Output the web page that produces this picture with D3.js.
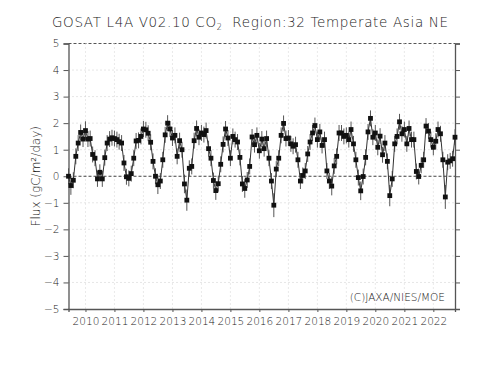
<!DOCTYPE html>
<html>
<head>
<meta charset="utf-8">
<script src="https://cdn.jsdelivr.net/npm/d3@7"></script>
<style>
  body { margin: 0; background: #fff; }
  text { font-family: "DejaVu Sans", sans-serif; fill: #222; font-weight: 200; }
</style>
</head>
<body>
<div id="chart"></div>
<script>
// monthly flux, starting June 2009
let startMonth = "2009-06"
let flux = [
    0.0, -0.35, -0.15, 0.75, 1.25, 1.65, 1.4,
    1.72, 1.4, 1.42, 0.82, 0.68, -0.1, 0.15, -0.1, 0.7, 1.25, 1.4, 1.45,
    1.42, 1.38, 1.3, 1.25, 0.5, -0.02, -0.08, 0.1, 0.68, 1.33, 1.35, 1.5,
    1.78, 1.75, 1.62, 1.28, 0.56, 0.0, -0.32, -0.18, 0.62, 1.56, 2.0, 1.78,
    1.44, 1.54, 0.75, 1.34, 1.0, -0.29, -0.9, 0.3, 0.37, 1.34, 1.8, 1.47,
    1.63, 1.57, 1.72, 1.04, 0.68, -0.16, -0.54, -0.28, 0.45, 1.2, 1.78, 1.44,
    0.68, 1.5, 1.38, 1.29, 0.71, -0.29, -0.46, -0.14, 0.37, 1.48, 1.19, 1.54,
    0.96, 1.4, 1.04, 1.42, 0.68, -0.18, -1.09, 0.27, 0.68, 1.54, 1.99, 1.42,
    1.44, 1.22, 1.13, 1.19, 0.62, -0.18, 0.03, 0.2, 0.84, 1.29, 1.63, 1.91,
    1.38, 1.67, 1.16, 1.38, 0.2, -0.18, -0.37, 0.39, 0.75, 1.63, 1.63, 1.5,
    1.54, 1.38, 1.76, 1.22, 0.62, -0.05, -0.55, -0.01, 0.71, 1.67, 2.18, 1.47,
    1.63, 1.09, 1.51, 0.81, 1.25, 0.56, -0.73, -0.1, 1.22, 1.5, 2.05, 1.6,
    1.76, 1.22, 1.8, 1.38, 1.38, 0.18, -0.01, 0.41, 0.62, 1.89, 1.7, 1.38,
    1.09, 1.32, 1.76, 1.6, 0.62, -0.78, 0.53, 0.58, 0.66, 1.47
]
// half length of the error bars
let fluxErr = [
    0.3, 0.35, 0.3, 0.3, 0.3, 0.3, 0.3,
    0.35, 0.3, 0.3, 0.3, 0.3, 0.3, 0.3, 0.3, 0.3, 0.3, 0.3, 0.3,
    0.3, 0.3, 0.3, 0.3, 0.3, 0.3, 0.3, 0.3, 0.3, 0.3, 0.3, 0.3,
    0.3, 0.3, 0.3, 0.3, 0.3, 0.3, 0.35, 0.3, 0.3, 0.3, 0.3, 0.3,
    0.3, 0.3, 0.3, 0.3, 0.3, 0.35, 0.4, 0.3, 0.3, 0.3, 0.3, 0.3,
    0.3, 0.3, 0.3, 0.3, 0.3, 0.3, 0.35, 0.3, 0.3, 0.3, 0.3, 0.3,
    0.3, 0.3, 0.3, 0.3, 0.3, 0.3, 0.35, 0.3, 0.3, 0.3, 0.3, 0.3,
    0.3, 0.3, 0.3, 0.3, 0.3, 0.3, 0.45, 0.3, 0.3, 0.3, 0.3, 0.3,
    0.3, 0.3, 0.3, 0.3, 0.3, 0.3, 0.3, 0.3, 0.3, 0.3, 0.3, 0.3,
    0.3, 0.3, 0.3, 0.3, 0.3, 0.3, 0.35, 0.3, 0.3, 0.3, 0.3, 0.3,
    0.3, 0.3, 0.3, 0.3, 0.3, 0.3, 0.35, 0.3, 0.3, 0.3, 0.3, 0.3,
    0.3, 0.3, 0.3, 0.3, 0.3, 0.3, 0.4, 0.3, 0.3, 0.3, 0.3, 0.3,
    0.3, 0.3, 0.3, 0.3, 0.3, 0.3, 0.3, 0.3, 0.3, 0.3, 0.3, 0.3,
    0.3, 0.3, 0.3, 0.3, 0.3, 0.45, 0.3, 0.3, 0.3, 0.3
]
let years = [2010, 2011, 2012, 2013, 2014, 2015, 2016, 2017, 2018, 2019, 2020, 2021, 2022]
let yTicks = [-5, -4, -3, -2, -1, 0, 1, 2, 3, 4, 5]

let W = 500, H = 375
let margin = {top: 43.5, right: 45, bottom: 66, left: 68.5}

let parseMonth = d3.timeParse("%Y-%m")
let start = parseMonth(startMonth)
let data = flux.map((v, i) => ({date: d3.timeMonth.offset(start, i), v: v, e: fluxErr[i]}))

let svg = d3.select("#chart").append("svg")
    .attr("width", W).attr("height", H)

let x = d3.scaleTime()
    .domain(d3.extent(data, d => d.date))
    .range([margin.left, W - margin.right])
let y = d3.scaleLinear()
    .domain([-5, 5])
    .range([H - margin.bottom, margin.top])

// grid
let grid = svg.append("g")
grid.selectAll(".hg").data(yTicks.filter(t => t != 0 && t != -5))
    .enter().append("line")
    .attr("x1", margin.left).attr("x2", W - margin.right)
    .attr("y1", d => y(d)).attr("y2", d => y(d))
    .attr("stroke", d => d == 5 ? "#555" : "#ccc")
    .attr("stroke-width", 1)
    .attr("stroke-dasharray", d => d == 5 ? "3,2" : "1,3")
grid.selectAll(".vg").data(years)
    .enter().append("line")
    .attr("x1", d => x(new Date(d, 0, 1))).attr("x2", d => x(new Date(d, 0, 1)))
    .attr("y1", y(5)).attr("y2", y(-5))
    .attr("stroke", "#d4d4d4")
    .attr("stroke-dasharray", "1,3")
// zero line
svg.append("line")
    .attr("x1", margin.left).attr("x2", W - margin.right)
    .attr("y1", y(0)).attr("y2", y(0))
    .attr("stroke", "#444")
    .attr("stroke-dasharray", "3,2")

// axes
let yAxisL = svg.append("g")
    .attr("transform", "translate(" + margin.left + ",0)")
    .call(d3.axisLeft(y).tickValues(yTicks).tickSize(5).tickFormat(d3.format("d")))
let yAxisR = svg.append("g")
    .attr("transform", "translate(" + (W - margin.right) + ",0)")
    .call(d3.axisRight(y).tickValues(yTicks).tickSize(5).tickFormat(""))
let xAxis = svg.append("g")
    .attr("transform", "translate(0," + y(-5) + ")")
    .call(d3.axisBottom(x).tickValues(years.map(d => new Date(d, 0, 1))).tickSize(3).tickFormat(d3.timeFormat("%Y")))
for (let a of [yAxisL, yAxisR, xAxis]) {
    a.select(".domain").attr("stroke", "#555").attr("stroke-width", 1.3)
    a.selectAll(".tick line").attr("stroke", "#555")
    a.selectAll("text").attr("font-size", 10.5).attr("fill", "#222")
}
yAxisL.selectAll("text").text(d => d < 0 ? "\u2212" + (-d) : d).attr("dx", -1)
xAxis.selectAll("text").attr("dy", "0.95em")

// error bars
svg.append("g").selectAll("line").data(data)
    .enter().append("line")
    .attr("x1", d => x(d.date)).attr("x2", d => x(d.date))
    .attr("y1", d => y(d.v - d.e)).attr("y2", d => y(d.v + d.e))
    .attr("stroke", "#555")
    .attr("stroke-width", 1)

// line
svg.append("path")
    .datum(data)
    .attr("fill", "none")
    .attr("stroke", "#333")
    .attr("stroke-width", 1)
    .attr("d", d3.line().x(d => x(d.date)).y(d => y(d.v)))

// markers
svg.append("g").selectAll("rect").data(data)
    .enter().append("rect")
    .attr("x", d => x(d.date) - 2.4).attr("y", d => y(d.v) - 2.4)
    .attr("width", 4.8).attr("height", 4.8)
    .attr("fill", "#111")

// title
let title = svg.append("text")
    .attr("x", 52).attr("y", 27)
    .attr("font-size", 13.5)
    .attr("textLength", 396).attr("lengthAdjust", "spacing")
title.append("tspan").text("GOSAT L4A V02.10 CO")
title.append("tspan").text("2").attr("font-size", 8).attr("dy", 3)
title.append("tspan").text("\u00a0 Region:32 Temperate Asia NE").attr("dy", -3)

// y label
svg.append("text")
    .attr("transform", "translate(40," + y(0) + ") rotate(-90)")
    .attr("text-anchor", "middle")
    .attr("font-size", 12)
    .text("Flux (gC/m\u00b2/day)")

// credit
svg.append("text")
    .attr("x", 445).attr("y", 301)
    .attr("text-anchor", "end")
    .attr("font-size", 10.5)
    .text("(C)JAXA/NIES/MOE")
</script>
</body>
</html>
